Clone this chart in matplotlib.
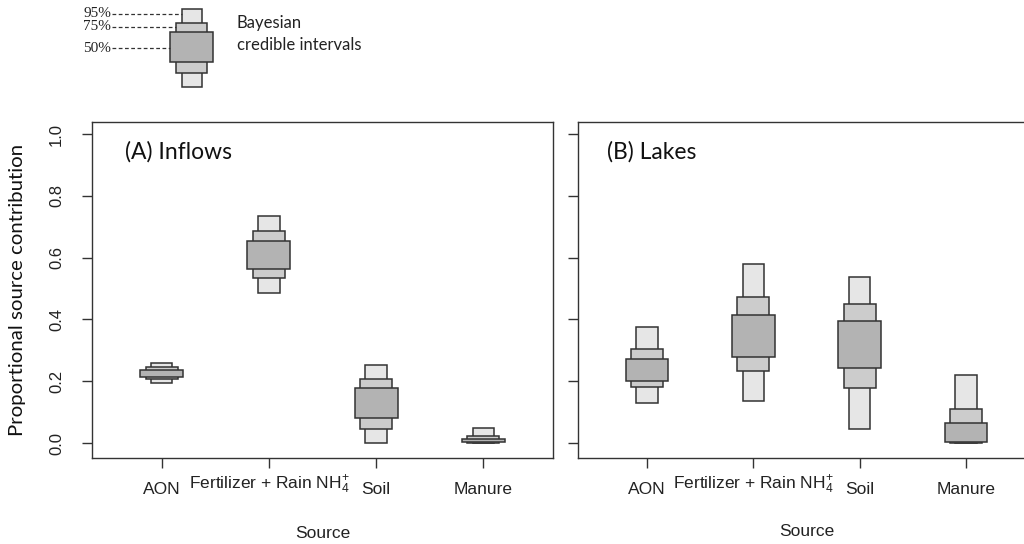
import matplotlib
matplotlib.use("Agg")
import matplotlib.pyplot as plt
from matplotlib.transforms import ScaledTranslation
from matplotlib.patches import Rectangle

# ---------------- data ----------------
sources = ["AON", r"Fertilizer + Rain NH$_4^{+}$", "Soil", "Manure"]
positions = [1, 2, 3, 4]

# Inflows (A): credible interval bounds
inflow_lo95 = [0.195, 0.485, 0.000, 0.000]
inflow_hi95 = [0.258, 0.735, 0.253, 0.048]
inflow_lo75 = [0.206, 0.534, 0.044, 0.001]
inflow_hi75 = [0.245, 0.686, 0.208, 0.022]
inflow_lo50 = [0.215, 0.562, 0.080, 0.002]
inflow_hi50 = [0.236, 0.654, 0.179, 0.012]

# Lakes (B)
lake_lo95 = [0.130, 0.137, 0.044, 0.000]
lake_hi95 = [0.374, 0.579, 0.536, 0.220]
lake_lo75 = [0.180, 0.234, 0.177, 0.001]
lake_hi75 = [0.303, 0.471, 0.450, 0.109]
lake_lo50 = [0.202, 0.277, 0.242, 0.002]
lake_hi50 = [0.271, 0.414, 0.396, 0.066]

yticks = [0.0, 0.2, 0.4, 0.6, 0.8, 1.0]
ytick_labels = ["0.0", "0.2", "0.4", "0.6", "0.8", "1.0"]

# ---------------- style ----------------
C95, C75, C50 = "#e6e6e6", "#cccccc", "#b3b3b3"
EDGE = "#333333"
W95, W75, W50 = 0.20, 0.30, 0.40
SANS = ["Liberation Sans", "DejaVu Sans"]
CAL = ["Lato", "DejaVu Sans"]

plt.rcParams["font.family"] = SANS
plt.rcParams["mathtext.fontset"] = "custom"
plt.rcParams["mathtext.rm"] = "Liberation Sans"
plt.rcParams["mathtext.it"] = "Liberation Sans:italic"
plt.rcParams["mathtext.bf"] = "Liberation Sans:bold"

fig = plt.figure(figsize=(10.24, 5.44), dpi=100)

W, H = 1024, 544
ax_bottom = (H - 458) / H
ax_height = (458 - 122) / H
axA = fig.add_axes([92 / W, ax_bottom, (553 - 92) / W, ax_height])
axB = fig.add_axes([578 / W, ax_bottom, (1035 - 578) / W, ax_height])


def draw_panel(ax, lo95, hi95, lo75, hi75, lo50, hi50):
    for lo, hi, w, c in [(lo95, hi95, W95, C95), (lo75, hi75, W75, C75),
                         (lo50, hi50, W50, C50)]:
        heights = [h - l for l, h in zip(lo, hi)]
        ax.bar(positions, heights, bottom=lo, width=w, color=c,
               edgecolor=EDGE, linewidth=1.1, zorder=2)
    ax.set_xlim(0.35, 4.65)
    ax.set_ylim(-0.0485, 1.039)
    ax.set_yticks(yticks)
    ax.set_xticks(positions)
    ax.set_xticklabels(sources, fontsize=12.5, color="#222222")
    for sp in ax.spines.values():
        sp.set_color(EDGE)
        sp.set_linewidth(1.0)
    ax.tick_params(axis="both", direction="out", length=7.2, width=1.0,
                   color=EDGE)
    ax.tick_params(axis="x", pad=10)
    # lift the label with the sub/superscript
    lbl = ax.get_xticklabels()[1]
    lbl.set_transform(lbl.get_transform() +
                      ScaledTranslation(0, 0.08, fig.dpi_scale_trans))


draw_panel(axA, inflow_lo95, inflow_hi95, inflow_lo75, inflow_hi75,
           inflow_lo50, inflow_hi50)
draw_panel(axB, lake_lo95, lake_hi95, lake_lo75, lake_hi75,
           lake_lo50, lake_hi50)

axA.set_yticklabels(ytick_labels, fontsize=12, color="#222222",
                    rotation=90, va="center")
axA.tick_params(axis="y", pad=13)
axB.set_yticklabels([])

axA.set_ylabel("Proportional source contribution", fontsize=14.7,
               family=CAL, color="#111111", va="center")
axA.yaxis.set_label_coords((18 - 92) / 461, 0.5)

axA.set_xlabel("Source", fontsize=12.5, color="#222222")
axA.xaxis.set_label_coords(0.5, (458 - 533.5) / 336)
axA.xaxis.label.set_va("center")
axB.set_xlabel("Source", fontsize=12.5, color="#222222")
axB.xaxis.set_label_coords(0.5, (458 - 531.5) / 336)
axB.xaxis.label.set_va("center")

axA.text((125 - 92) / 461, (458 - 152) / 336, "(A) Inflows",
         transform=axA.transAxes, fontsize=16.5, family=CAL, va="center",
         ha="left", color="#111111")
axB.text((607 - 578) / 457, (458 - 152) / 336, "(B) Lakes",
         transform=axB.transAxes, fontsize=16.5, family=CAL, va="center",
         ha="left", color="#111111")

# ---------------- legend key (top-left schematic) ----------------
lg = fig.add_axes([0, 0, 1, 1], zorder=5)
lg.set_xlim(0, W)
lg.set_ylim(H, 0)
lg.axis("off")
for (x0, x1, y0, y1, c) in [(181.7, 202.3, 9.3, 87.3, C95),
                            (176, 207, 22.7, 72.7, C75),
                            (170, 212.7, 31.7, 62.3, C50)]:
    lg.add_patch(Rectangle((x0, y0), x1 - x0, y1 - y0, facecolor=c,
                           edgecolor=EDGE, linewidth=1.1))
for (txt, ty, lx1, ly) in [("95%", 13.5, 181.7, 14),
                           ("75%", 27, 176, 27),
                           ("50%", 48, 170, 48)]:
    lg.text(83, ty, txt, family=["Liberation Serif", "DejaVu Serif"],
            fontsize=11, va="center", ha="left", color="#222222")
    lg.plot([112, lx1], [ly, ly], linestyle=(0, (3, 2)), color="#333333",
            linewidth=0.9)
lg.text(237, 23, "Bayesian", family=CAL, fontsize=12, va="center",
        ha="left", color="#222222")
lg.text(237, 45, "credible intervals", family=CAL, fontsize=12,
        va="center", ha="left", color="#222222")

fig.savefig("out.png", dpi=100)
